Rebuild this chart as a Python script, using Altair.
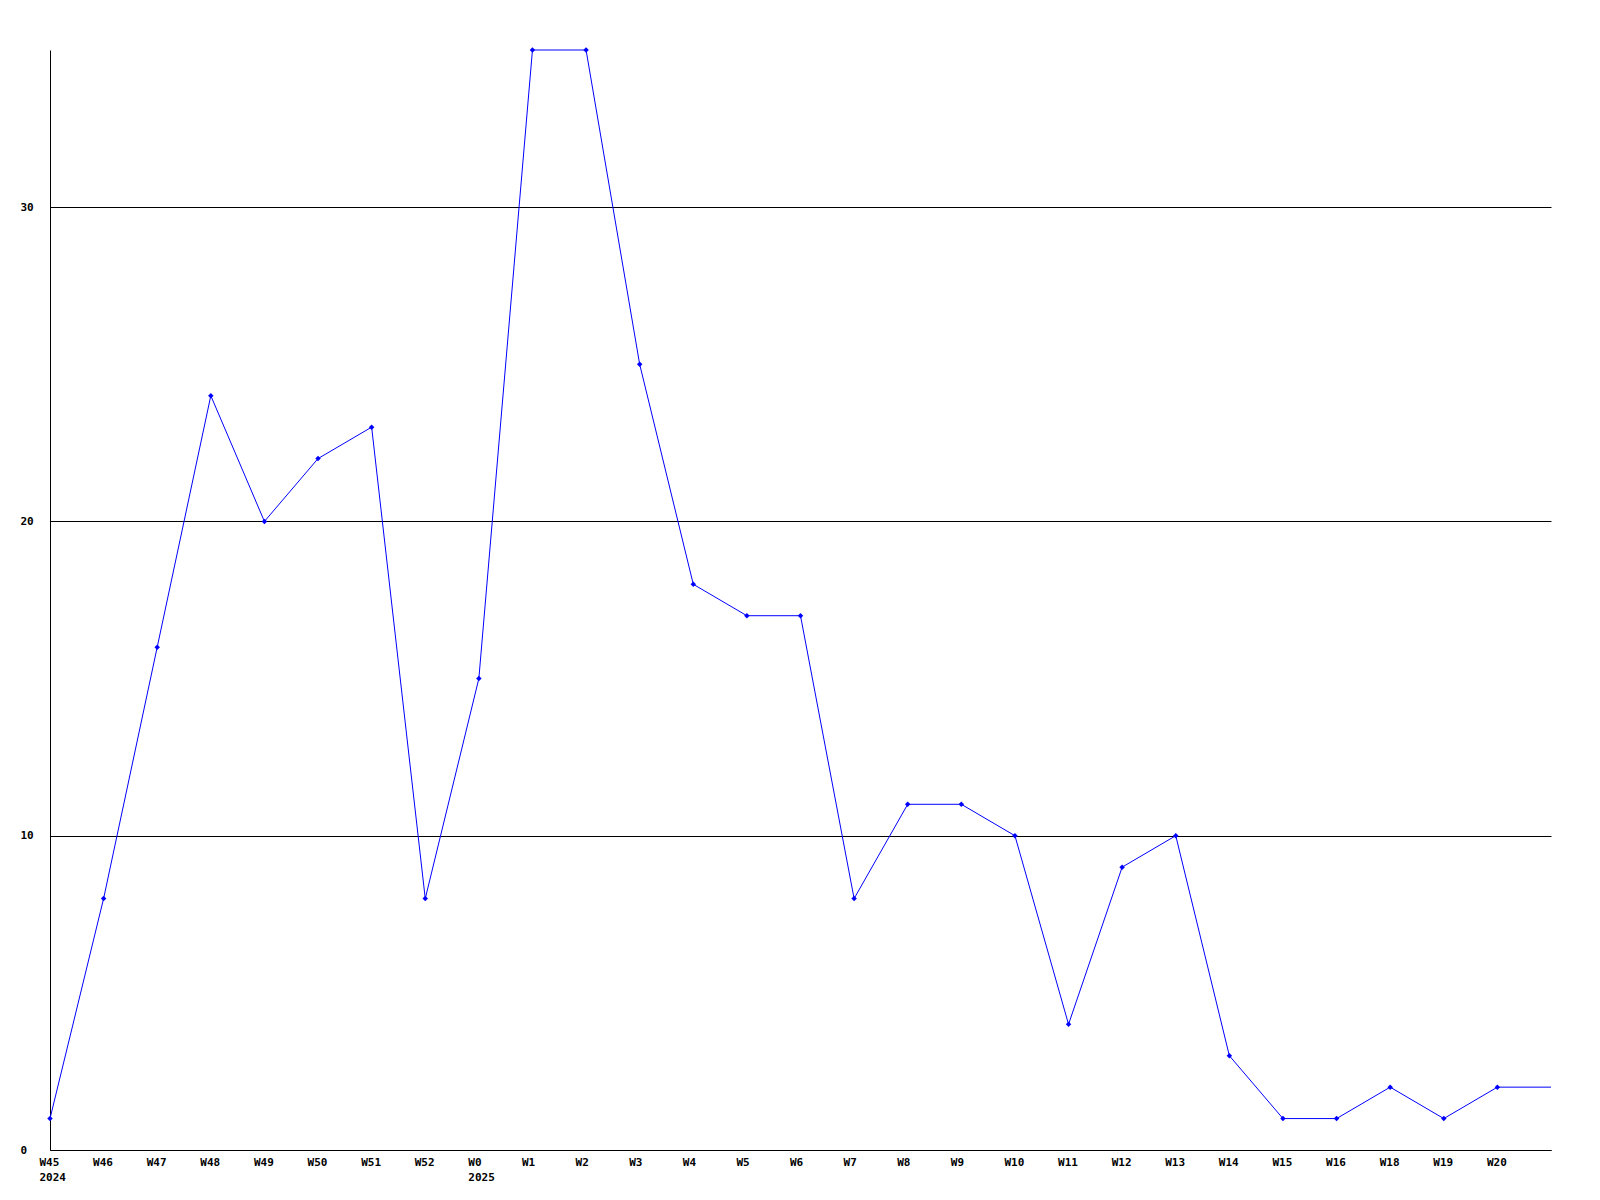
import json
import altair as alt
import pandas as pd

weeks = ["W45", "W46", "W47", "W48", "W49", "W50", "W51", "W52", "W0", "W1",
         "W2", "W3", "W4", "W5", "W6", "W7", "W8", "W9", "W10", "W11",
         "W12", "W13", "W14", "W15", "W16", "W18", "W19", "W20"]
years = {"W45": "2024", "W0": "2025"}
values = [1, 8, 16, 24, 20, 22, 23, 8, 15, 35,
          35, 25, 18, 17, 17, 8, 11, 11, 10, 4,
          9, 10, 3, 1, 1, 2, 1, 2]
tail_value = 2  # line continues flat to the right edge after W20

idx = list(range(len(weeks)))
line_df = pd.DataFrame({"i": idx + [len(weeks)], "v": values + [tail_value]})
pts_df = pd.DataFrame({"i": idx, "v": values, "week": weeks})

label_items = [[w, years[w]] if w in years else w for w in weeks]
label_expr = json.dumps(label_items) + "[datum.value]"

FONT = "DejaVu Sans Mono"

x_enc = alt.X("i:Q", scale=alt.Scale(domain=[0, len(weeks)], nice=False, zero=False),
              axis=alt.Axis(values=idx, labelExpr=label_expr, title=None, grid=False,
                            ticks=False, tickSize=0, domainColor="black", domainWidth=1,
                            labelAlign="left", labelOffset=-11, labelPadding=6,
                            labelBaseline="top", labelLineHeight=15,
                            labelFont=FONT, labelFontSize=11, labelFontWeight="bold",
                            labelColor="black", labelOverlap=False, labelBound=False,
                            labelFlush=False))
y_enc = alt.Y("v:Q", scale=alt.Scale(domain=[0, 35], nice=False),
              axis=alt.Axis(values=[0, 10, 20, 30], title=None, grid=True, gridColor="black",
                            gridOpacity=1, gridWidth=1, ticks=False, tickSize=0,
                            domainColor="black", domainWidth=1, labelAlign="left",
                            labelPadding=30, labelBaseline="middle", labelFont=FONT,
                            labelFontSize=11, labelFontWeight="bold", labelColor="black"))

line = alt.Chart(line_df).mark_line(color="#0000FF", strokeWidth=1).encode(x=x_enc, y=y_enc)
pts = alt.Chart(pts_df).mark_point(shape="diamond", filled=True, size=30, color="#0000FF",
                                   opacity=1).encode(x="i:Q", y="v:Q")

chart = (line + pts).properties(
    width=1501, height=1100,
    padding={"left": 42, "top": 42, "right": 20, "bottom": 40},
    autosize=alt.AutoSizeParams(type="none"),
    view=alt.ViewBackground(stroke="white", strokeOpacity=0, strokeWidth=0),
).configure_view(stroke="white", strokeOpacity=0, strokeWidth=0).configure(background="white")

chart.save("out.html", embed_options={"renderer": "svg", "actions": False})
